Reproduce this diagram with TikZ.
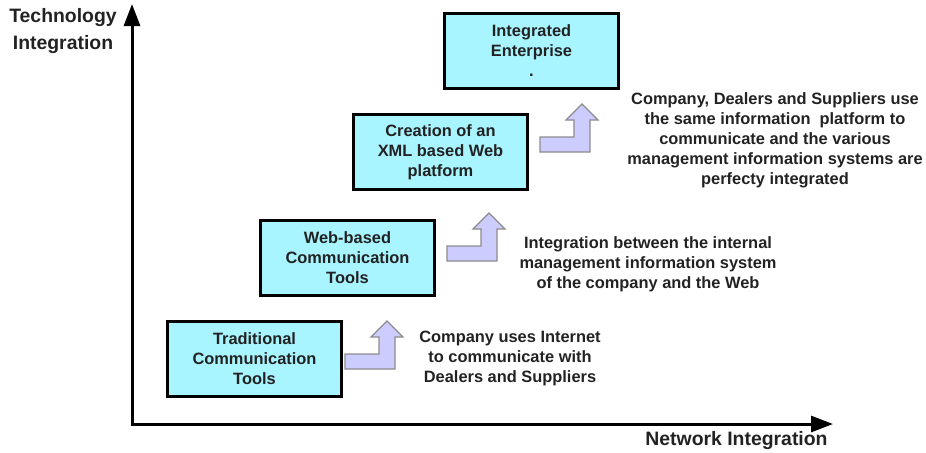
\documentclass[tikz,border=0pt]{standalone}
\usepackage{fontspec}
\setmainfont{Liberation Sans}
\usetikzlibrary{arrows.meta}

\definecolor{boxcyan}{RGB}{168,244,255}
\definecolor{steplilac}{RGB}{204,204,255}
\definecolor{textgray}{RGB}{34,34,34}

\begin{document}
\begin{tikzpicture}[x=0.5pt,y=-0.5pt,
	stage/.style={draw=black,line width=1.5pt,fill=boxcyan,text=textgray,align=center,
		minimum width=87pt,minimum height=37.5pt,inner sep=0pt,
		font=\bfseries\fontsize{8.2}{10}\selectfont},
	note/.style={text=textgray,align=center,inner sep=0pt,font=\bfseries\fontsize{8.2}{10}\selectfont},
	axislabel/.style={text=textgray,align=center,inner sep=0pt,font=\bfseries\fontsize{9.7}{13.5}\selectfont},
	axisline/.style={line width=1.5pt,{Triangle[length=11pt,width=8pt]}-{Triangle[length=11pt,width=8pt]}},
	stepup/.pic={\filldraw[fill=steplilac,draw=black!45,line width=0.6pt]
		(0,0) -- (0,-15) -- (34,-15) -- (34,-32) -- (26,-32) -- (42,-48) -- (58,-32) -- (50,-32) -- (50,0) -- cycle;}]
	\useasboundingbox (0,0) rectangle (926,452);
	% axes
	\coordinate (origin) at (132,424);
	\coordinate (ytip) at (132,4);
	\coordinate (xtip) at (833,424);
	\draw[axisline] (ytip) |- (xtip);
	\node[axislabel] (techlabel) at (63,31.5) {Technology\\Integration};
	\node[axislabel] (netlabel) at (736.5,441) {Network Integration};
	% stages
	\node[stage] (traditional) at (254.5,359) {Traditional\\Communication\\Tools};
	\node[stage] (webbased) at (347.5,258) {Web-based\\Communication\\Tools};
	\node[stage] (xmlweb) at (440.5,152) {Creation of an\\XML based Web\\platform};
	\node[stage] (enterprise) at (531.5,50.5) {Integrated\\Enterprise\\.};
	% steps
	\pic at (345,369) {stepup};
	\pic at (447,261) {stepup};
	\pic at (540,152) {stepup};
	% notes
	\node[note] (note1) at (510,358) {Company uses Internet\\to communicate with\\Dealers and Suppliers};
	\node[note] (note2) at (648,264) {Integration between the internal\\management information system\\of the company and the Web};
	\node[note] (note3) at (775,140) {Company, Dealers and Suppliers use\\the same information\ \ platform to\\communicate and the various\\management information systems are\\perfecty integrated};
\end{tikzpicture}
\end{document}
